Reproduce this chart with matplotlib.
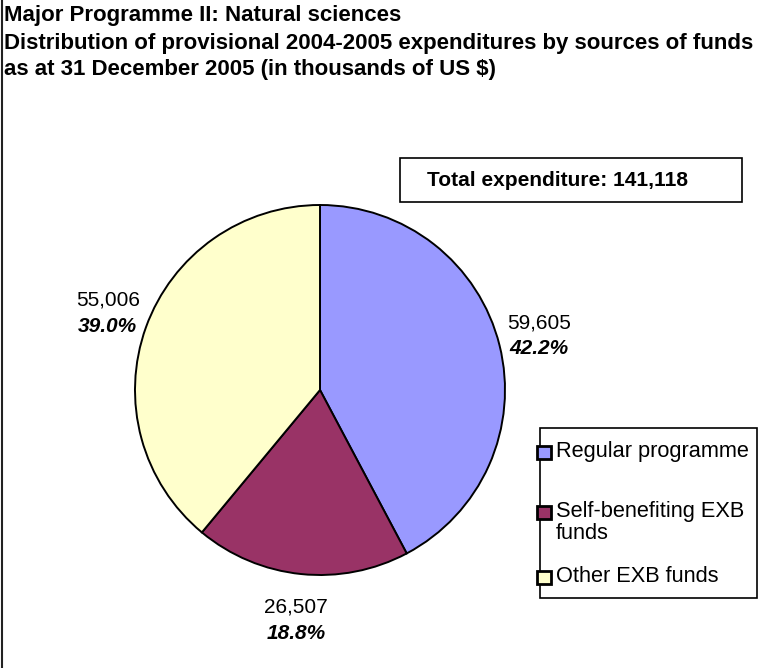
import numpy as np
import matplotlib
matplotlib.use("Agg")
import matplotlib.pyplot as plt
from matplotlib.patches import Rectangle

plt.rcParams["font.family"] = ["Liberation Sans", "DejaVu Sans"]

# ---- data (thousands of US $) ----
sources = ["Regular programme", "Self-benefiting EXB\nfunds", "Other EXB funds"]
amounts = [59605, 26507, 55006]
shares = [42.2, 18.8, 39.0]
total = 141118
colors = ["#9999FF", "#993366", "#FFFFCC"]

W, H = 777, 668
fig = plt.figure(figsize=(W / 100, H / 100), dpi=100)

# overlay axes in pixel coordinates for boxes and text
ov = fig.add_axes([0, 0, 1, 1])
ov.set_xlim(0, W); ov.set_ylim(H, 0); ov.axis("off")
ov.plot([1.5, 1.5], [0, H], color="#222222", lw=1.5)  # left edge line only

title_lines = ["Major Programme II: Natural sciences",
               "Distribution of provisional 2004-2005 expenditures by sources of funds",
               "as at 31 December 2005 (in thousands of US $)"]
for i, line in enumerate(title_lines):
    ov.text(4, 16 + 27 * i, line, fontsize=16, fontweight="bold",
            va="center", ha="left")

# pie
cx, cy, R = 320, 390, 185
pa = fig.add_axes([(cx - R) / W, (H - cy - R) / H, 2 * R / W, 2 * R / H])
wedges, _ = pa.pie(amounts, colors=colors, startangle=90, counterclock=False,
                   wedgeprops=dict(edgecolor="black", linewidth=1.4))
pa.set_xlim(-1, 1); pa.set_ylim(-1, 1); pa.set_aspect("equal"); pa.axis("off")

label_r = [1.22, 1.25, 1.22]
for w, amt, pct, r in zip(wedges, amounts, shares, label_r):
    ang = np.deg2rad((w.theta1 + w.theta2) / 2)
    lx, ly = r * np.cos(ang), r * np.sin(ang)
    px, py = cx + lx * R, cy - ly * R
    ov.text(px, py - 13, f"{amt:,}", fontsize=15, ha="center", va="center")
    ov.text(px, py + 13, f"{pct:.1f}%", fontsize=15, ha="center", va="center",
            fontweight="bold", fontstyle="italic")

# total box
ov.add_patch(Rectangle((400, 158), 342, 44, fill=False, lw=1.2, ec="black"))
ov.text(427, 180, f"Total expenditure: {total:,}", fontsize=15, fontweight="bold",
        ha="left", va="center")

# legend
ov.add_patch(Rectangle((540, 428), 217, 170, fill=False, lw=1.2, ec="black"))
leg_y = [453, 513, 578]
for lab, col, y in zip(sources, colors, leg_y):
    ov.add_patch(Rectangle((537, y - 7), 14, 13, fc=col, ec="black", lw=2))
    ov.text(556, y - 12, lab, fontsize=15.7, ha="left", va="top", linespacing=1.05)

fig.savefig("out.png", dpi=100)
